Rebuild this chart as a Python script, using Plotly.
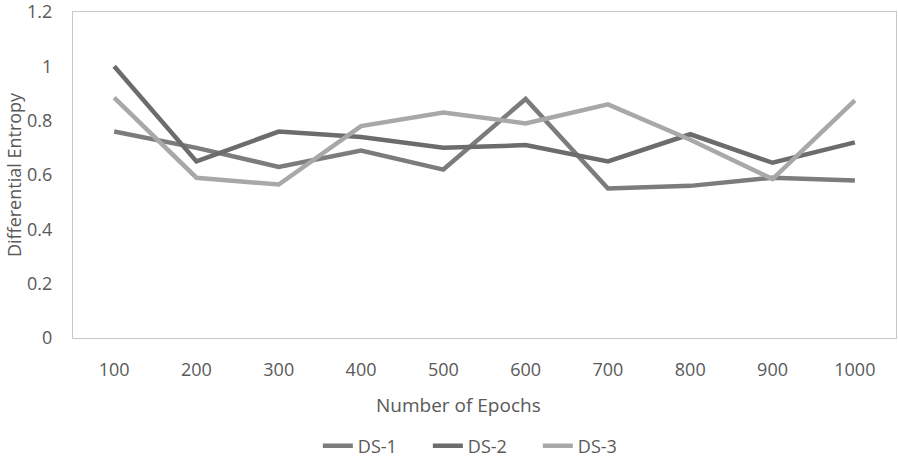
import plotly.graph_objects as go

# Training epochs (categories on the x axis)
epochs = ["100", "200", "300", "400", "500", "600", "700", "800", "900", "1000"]

# Differential entropy per dataset
ds1 = [0.76, 0.70, 0.63, 0.69, 0.62, 0.88, 0.55, 0.56, 0.59, 0.58]
ds2 = [1.00, 0.65, 0.76, 0.74, 0.70, 0.71, 0.65, 0.75, 0.645, 0.72]
ds3 = [0.885, 0.59, 0.565, 0.78, 0.83, 0.79, 0.86, 0.73, 0.585, 0.875]

series = [
    ("DS-1", ds1, "#7c7c7c"),
    ("DS-2", ds2, "#6c6c6c"),
    ("DS-3", ds3, "#a8a8a8"),
]

fig = go.Figure()
for name, vals, color in series:
    fig.add_trace(go.Scatter(
        x=epochs, y=vals, name=name, mode="lines",
        line=dict(color=color, width=4.5),
    ))

txt = "#595959"
tick_font = dict(family="Open Sans", size=18, color=txt)

fig.update_layout(
    width=898, height=459,
    margin=dict(l=73, r=2, t=12, b=121, autoexpand=False),
    paper_bgcolor="white", plot_bgcolor="white",
    font=dict(family="Open Sans", color=txt),
    showlegend=True,
    legend=dict(
        orientation="h", x=0.498, xanchor="center",
        yref="container", y=0.028, yanchor="middle",
        font=dict(family="Open Sans", size=18, color=txt),
        entrywidth=65, entrywidthmode="pixels",
    ),
    xaxis=dict(
        type="category", range=[-0.5, 9.5],
        showgrid=False, zeroline=False,
        showline=True, mirror=True, linecolor="#c8c8c8", linewidth=1,
        ticks="", tickfont=tick_font, ticklabelstandoff=15,
    ),
    yaxis=dict(
        range=[0, 1.2],
        showgrid=False, zeroline=False,
        showline=True, mirror=True, linecolor="#c8c8c8", linewidth=1,
        ticks="", tickfont=tick_font, ticklabelstandoff=16,
        ticklabeloverflow="allow",
        tickvals=[0, 0.2, 0.4, 0.6, 0.8, 1.0, 1.2],
        ticktext=["0", "0.2", "0.4", "0.6", "0.8", "1", "1.2"],
        title=dict(text="Differential Entropy", font=dict(family="Open Sans", size=18, color=txt), standoff=0),
    ),
    annotations=[dict(
        text="Number of Epochs", xref="paper", yref="paper",
        x=0.468, y=-0.2055, xanchor="center", yanchor="middle",
        showarrow=False, font=dict(family="Open Sans", size=19, color=txt),
    )],
)

fig.write_html("out.html")
